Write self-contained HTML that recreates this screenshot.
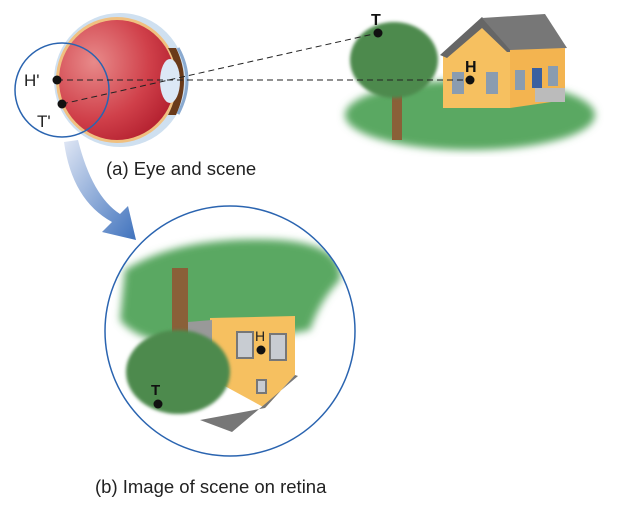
<!DOCTYPE html>
<html><head><style>body{margin:0;background:#fff}svg{display:block}text{font-family:"Liberation Sans",sans-serif}</style></head>
<body>
<svg width="619" height="506" viewBox="0 0 619 506" xmlns="http://www.w3.org/2000/svg">
<defs>
<radialGradient id="eg" cx="0.3" cy="0.35" r="0.8"><stop offset="0" stop-color="#e88a8a"/><stop offset="0.6" stop-color="#d0404a"/><stop offset="1" stop-color="#b01c2c"/></radialGradient>
<linearGradient id="ag" x1="0" y1="0" x2="1" y2="1"><stop offset="0" stop-color="#dfe6f4"/><stop offset="1" stop-color="#3f72bd"/></linearGradient>
<filter id="bl"><feGaussianBlur stdDeviation="4"/></filter>
<filter id="bl2"><feGaussianBlur stdDeviation="1.5"/></filter>
</defs>
<path d="M64,142 Q72,200 112,222 L102,232 L136,240 L128,206 L120,214 Q92,196 78,140 Z" fill="url(#ag)"/>
<ellipse cx="120" cy="80" rx="66" ry="67" fill="#cfe0f0"/>
<ellipse cx="117" cy="80" rx="61" ry="63" fill="#f0c080"/>
<ellipse cx="117" cy="80" rx="58" ry="60" fill="url(#eg)"/>
<path d="M168,48 Q186,80 168,115 L176,115 Q192,80 176,48Z" fill="#6a3a1a"/>
<ellipse cx="170" cy="81" rx="10" ry="22" fill="#dce8f6"/>
<path d="M178,48 Q196,80 178,114" stroke="#8aaad0" stroke-width="3" fill="none"/>
<circle cx="62" cy="90" r="47" fill="none" stroke="#2a64b0" stroke-width="1.5"/>
<ellipse cx="470" cy="115" rx="125" ry="35" fill="#5aa862" filter="url(#bl)"/>
<rect x="392" y="80" width="10" height="60" fill="#8a6038"/>
<ellipse cx="394" cy="60" rx="44" ry="38" fill="#4e8a4e" filter="url(#bl2)"/>
<polygon points="443,55 482,20 510,50 510,108 443,108" fill="#f6c060"/>
<polygon points="440,55 482,17 515,52 507,52 482,28 447,58" fill="#666"/>
<polygon points="482,18 545,14 567,48 512,52" fill="#777"/>
<polygon points="510,50 565,48 565,100 510,108" fill="#f3b450"/>
<rect x="452" y="72" width="12" height="22" fill="#8a9cb0"/><rect x="486" y="72" width="12" height="22" fill="#8a9cb0"/>
<rect x="515" y="70" width="10" height="20" fill="#8a9cb0"/><rect x="532" y="68" width="10" height="20" fill="#3a60a0"/><rect x="548" y="66" width="10" height="20" fill="#8a9cb0"/>
<rect x="535" y="88" width="30" height="14" fill="#bbb"/>
<g stroke="#222" stroke-width="1" stroke-dasharray="6,4" fill="none">
<line x1="57" y1="80" x2="470" y2="80"/>
<line x1="62" y1="104" x2="378" y2="33"/>
</g>
<g fill="#111"><circle cx="57" cy="80" r="4.5"/><circle cx="62" cy="104" r="4.5"/><circle cx="378" cy="33" r="4.5"/><circle cx="470" cy="80" r="4.5"/></g>
<text x="24" y="86" font-size="17" fill="#222">H'</text>
<text x="37" y="127" font-size="17" fill="#222">T'</text>
<text x="371" y="25" font-size="16" font-weight="bold" fill="#111">T</text>
<text x="465" y="72" font-size="16" font-weight="bold" fill="#111">H</text>
<text x="106" y="175" font-size="18.5" fill="#222">(a) Eye and scene</text>
<clipPath id="cc"><circle cx="230" cy="331" r="125"/></clipPath>
<g clip-path="url(#cc)">
<path d="M125,270 Q180,235 280,240 Q345,245 340,280 Q320,300 310,330 Q260,340 200,345 Q140,345 120,320Z" fill="#5aa862" filter="url(#bl)"/>
<rect x="172" y="268" width="16" height="75" fill="#8a6038"/>
<polygon points="210,318 295,316 295,375 265,408 210,378" fill="#f6c060"/>
<polygon points="295,375 298,376 232,432 200,420 265,408" fill="#777"/>
<polygon points="188,322 212,320 212,360 188,360" fill="#999"/>
<rect x="237" y="332" width="16" height="26" fill="#c8ccd2" stroke="#777" stroke-width="2"/>
<rect x="270" y="334" width="16" height="26" fill="#c8ccd2" stroke="#777" stroke-width="2"/>
<rect x="257" y="380" width="9" height="13" fill="#c8ccd2" stroke="#777" stroke-width="2"/>
<ellipse cx="178" cy="372" rx="52" ry="42" fill="#4e8a4e" filter="url(#bl2)"/>
</g>
<circle cx="230" cy="331" r="125" fill="none" stroke="#2a64b0" stroke-width="1.5"/>
<circle cx="261" cy="350" r="4.5" fill="#111"/>
<circle cx="158" cy="404" r="4.5" fill="#111"/>
<text x="255" y="341" font-size="14" fill="#222">H</text>
<text x="151" y="395" font-size="15" font-weight="bold" fill="#111">T</text>
<text x="95" y="493" font-size="18.5" fill="#222">(b) Image of scene on retina</text>
</svg>
</body></html>
